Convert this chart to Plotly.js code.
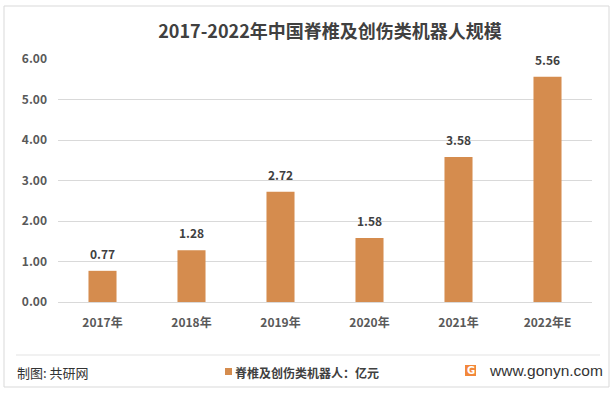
<!DOCTYPE html>
<html>
<head>
<meta charset="utf-8">
<script src="https://cdn.plot.ly/plotly-3.0.1.min.js"></script>
<style>html,body{margin:0;padding:0;background:#fff;}#chart{width:615px;height:395px;}</style>
</head>
<body>
<div id="chart"></div>
<script>
const categories = ["2017年", "2018年", "2019年", "2020年", "2021年", "2022年E"];
const values = [0.77, 1.28, 2.72, 1.58, 3.58, 5.56];
const seriesName = "脊椎及创伤类机器人：亿元";
const yTicks = [0, 1, 2, 3, 4, 5, 6];

const F = '"Noto Sans CJK SC", "Noto Sans", sans-serif';
const BAR = "#D58C4E";

// plot area in pixels (for converting footer positions to paper coords)
const L = 58, R = 592, T = 59, B = 302;
const px = x => (x - L) / (R - L);
const py = y => (B - y) / (B - T);

const trace = {
  type: "bar",
  x: categories,
  y: values,
  name: seriesName,
  marker: {color: BAR},
  hoverinfo: "none"
};

const labelAnns = categories.map((c, i) => ({
  x: c, y: values[i], xref: "x", yref: "y", text: values[i].toFixed(2),
  showarrow: false, yanchor: "bottom", yshift: 7,
  font: {family: F, size: 12, color: "#404040", weight: "bold"}
}));

const layout = {
  width: 615, height: 395,
  margin: {l: L, r: 615 - R, t: T, b: 395 - B, autoexpand: false},
  paper_bgcolor: "#fff", plot_bgcolor: "#fff",
  bargap: 0.685,
  font: {family: F, color: "#595959"},
  title: {text: "2017-2022年中国脊椎及创伤类机器人规模", x: 330 / 615, xanchor: "center",
          y: 1 - 32 / 395, yanchor: "middle",
          font: {family: F, size: 18, color: "#404040", weight: "bold"}},
  xaxis: {type: "category", showgrid: false, showline: true, linecolor: "#d9d9d9", linewidth: 1,
          ticks: "", automargin: false,
          tickfont: {family: F, size: 12, color: "#595959", weight: "bold"}, ticklabelstandoff: 10},
  yaxis: {range: [0, 6], tickvals: yTicks, tickformat: ".2f", showgrid: true, gridcolor: "#d9d9d9",
          zeroline: false, showline: false, ticks: "", automargin: false,
          tickfont: {family: F, size: 12, color: "#595959", weight: "bold"}, ticklabelstandoff: 10},
  showlegend: false,
  shapes: [
    {type: "rect", xref: "paper", yref: "paper", x0: px(4), x1: px(609), y0: py(387), y1: py(6),
     line: {color: "#d9d9d9", width: 1}, fillcolor: "rgba(0,0,0,0)", layer: "below"},
    {type: "line", xref: "paper", yref: "paper", x0: px(16), x1: px(600), y0: py(355), y1: py(355),
     line: {color: "#e3e3e3", width: 1}},
    // legend swatch
    {type: "rect", xref: "paper", yref: "paper", x0: px(225), x1: px(232), y0: py(375), y1: py(368),
     line: {width: 0}, fillcolor: BAR},
    // logo
    {type: "rect", xref: "paper", yref: "paper", x0: px(465), x1: px(476), y0: py(376), y1: py(365),
     line: {width: 0}, fillcolor: "#F2883A"}
  ],
  annotations: labelAnns.concat([
    {text: "制图: 共研网", xref: "paper", yref: "paper", x: px(15), xanchor: "left", y: py(372), yanchor: "middle",
     showarrow: false, font: {family: F, size: 13, color: "#333333"}},
    {text: seriesName, xref: "paper", yref: "paper", x: px(233), xanchor: "left", y: py(372), yanchor: "middle",
     showarrow: false, font: {family: F, size: 12, color: "#404040", weight: "bold"}},
    {text: "G", xref: "paper", yref: "paper", x: px(470.5), xanchor: "center", y: py(370.5), yanchor: "middle",
     showarrow: false, font: {family: "DejaVu Sans", size: 10, color: "#ffffff", weight: "bold"}},
    {text: "www.gonyn.com", xref: "paper", yref: "paper", x: px(487), xanchor: "left", y: py(370), yanchor: "middle",
     showarrow: false, font: {family: "Liberation Sans", size: 15.5, color: "#333333"}}
  ])
};

Plotly.newPlot("chart", [trace], layout, {displayModeBar: false, staticPlot: true});
</script>
</body>
</html>
